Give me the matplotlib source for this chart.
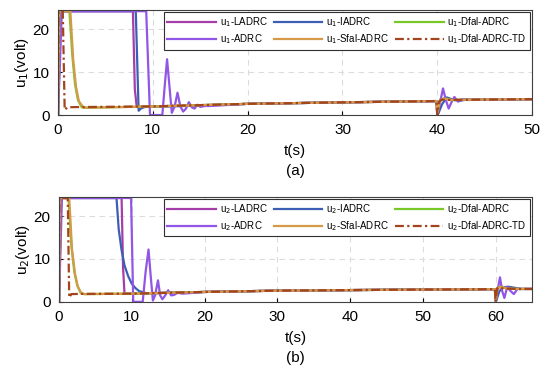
import matplotlib.pyplot as plt

plt.rcParams['font.family'] = ['Liberation Sans', 'DejaVu Sans']

# ---- panel (a): u1 ----
a_ladrc_t = [0, 0.2, 7.9, 8.1, 8.3, 10, 20, 30, 39.9, 40.0, 40.3, 40.8, 41.5, 43, 50]
a_ladrc_v = [0, 24.2, 24.2, 6, 1.9, 2.0, 2.6, 2.95, 3.25, 0.2, 3.4, 3.8, 3.5, 3.55, 3.7]
a_iadrc_t = [0, 0.3, 8.2, 8.5, 8.8, 9.2, 10, 11, 12, 20, 30, 39.9, 40.1, 40.5, 41.0, 41.6, 42.3, 43, 50]
a_iadrc_v = [0, 24.2, 24.2, 1.0, 1.6, 1.9, 2.0, 2.0, 2.0, 2.6, 2.95, 3.25, 0.3, 2.5, 4.1, 3.6, 3.3, 3.55, 3.7]
a_dfal_t = [0, 0.1, 1.2, 1.5, 1.8, 2.1, 2.5, 3.0, 10, 20, 30, 39.9, 40.0, 40.3, 40.8, 41.5, 43, 50]
a_dfal_v = [0, 24.2, 24.2, 14, 7, 3.5, 1.8, 1.7, 2.0, 2.6, 2.95, 3.25, 0.3, 3.6, 3.9, 3.5, 3.55, 3.7]
a_adrc_t = [0, 0.4, 9.3, 9.7, 11.0, 11.3, 11.5, 11.7, 12.0, 12.3, 12.6, 12.9, 13.2, 13.5,
            13.8, 14.1, 14.4, 14.7, 15.0, 15.5, 16, 20, 30, 39.9, 40.0, 40.3, 40.6, 40.9,
            41.2, 41.5, 41.8, 42.2, 42.7, 43.2, 50]
a_adrc_v = [0, 24.2, 24.2, 0, 0, 8, 13, 8, 0.5, 2, 5.2, 2, 0.8, 1.5,
            3.0, 1.8, 1.5, 2.4, 1.9, 2.1, 2.1, 2.6, 2.95, 3.25, 0.2, 3.0, 6.2, 3.5,
            1.5, 3.0, 4.2, 3.1, 3.7, 3.5, 3.7]
a_sfal_t = [0, 0.15, 1.3, 1.6, 1.9, 2.2, 2.7, 3.2, 10, 20, 30, 39.9, 40.0, 40.3, 40.8, 41.5, 43, 50]
a_sfal_v = [0, 24.2, 24.2, 13, 6.5, 3.2, 1.7, 1.7, 2.0, 2.6, 2.95, 3.25, 0.3, 3.5, 3.8, 3.5, 3.55, 3.7]
a_td_t = [0, 0.05, 0.5, 0.7, 1.0, 2, 10, 20, 30, 39.9, 40.0, 40.2, 40.5, 41, 43, 50]
a_td_v = [0, 24.2, 24.2, 1.2, 1.8, 1.85, 2.0, 2.6, 2.95, 3.25, 0.0, 3.2, 3.6, 3.5, 3.55, 3.7]

# ---- panel (b): u2 ----
b_ladrc_t = [0, 0.2, 8.6, 8.8, 9.0, 10, 20, 30, 45, 59.9, 60.0, 60.3, 60.8, 61.5, 63, 65]
b_ladrc_v = [0, 24.2, 24.2, 8, 1.9, 1.9, 2.3, 2.6, 2.8, 2.95, 0.2, 3.3, 3.6, 3.1, 3.0, 3.0]
b_iadrc_t = [0, 0.3, 7.9, 8.2, 8.6, 9.0, 9.5, 10, 10.5, 11, 12, 20, 30, 45, 59.9, 60.1,
             60.5, 61.0, 61.8, 62.5, 63.5, 65]
b_iadrc_v = [0, 24.2, 24.2, 17, 12, 8.5, 6, 4.2, 3.2, 2.5, 2.0, 2.3, 2.6, 2.8, 2.95, 0.3,
             2.4, 3.4, 3.5, 3.3, 3.0, 3.0]
b_dfal_t = [0, 0.1, 1.3, 1.7, 2.1, 2.5, 3.0, 3.5, 10, 20, 30, 45, 59.9, 60.0, 60.3, 60.8, 61.5, 63, 65]
b_dfal_v = [0, 24.2, 24.2, 13, 7, 3.8, 2.0, 1.8, 1.9, 2.3, 2.6, 2.8, 2.95, 0.3, 3.4, 3.5, 3.1, 3.0, 3.0]
b_adrc_t = [0, 0.4, 9.9, 10.2, 11.5, 11.9, 12.3, 12.6, 12.9, 13.2, 13.6, 13.9, 14.2, 14.6,
            15.0, 15.4, 15.8, 16.3, 17, 20, 30, 45, 59.9, 60.0, 60.3, 60.6, 60.9, 61.2,
            61.6, 62.0, 62.5, 63.0, 65]
b_adrc_v = [0, 24.2, 24.2, 0, 0, 7, 12.2, 6, 0.3, 1.5, 5.0, 1.5, 0.6, 1.5,
            2.7, 1.5, 1.6, 2.1, 1.9, 2.3, 2.6, 2.8, 2.95, 0.2, 3.0, 5.7, 2.5,
            0.9, 3.5, 2.6, 1.8, 3.0, 3.0]
b_sfal_t = [0, 0.15, 1.4, 1.8, 2.2, 2.6, 3.1, 3.6, 10, 20, 30, 45, 59.9, 60.0, 60.3, 60.8, 61.5, 63, 65]
b_sfal_v = [0, 24.2, 24.2, 12, 6.5, 3.5, 1.9, 1.8, 1.9, 2.3, 2.6, 2.8, 2.95, 0.3, 3.3, 3.5, 3.1, 3.0, 3.0]
b_td_t = [0, 0.05, 1.2, 1.4, 1.7, 3, 10, 20, 30, 45, 59.9, 60.0, 60.2, 60.5, 61, 63, 65]
b_td_v = [0, 24.2, 24.2, 1.0, 1.8, 1.85, 1.9, 2.3, 2.6, 2.8, 2.95, 0.0, 3.1, 3.4, 3.1, 3.0, 3.0]

names = ['LADRC', 'IADRC', 'Dfal-ADRC', 'ADRC', 'Sfal-ADRC', 'Dfal-ADRC-TD']
colors = ['#a53ea8', '#3c5fb5', '#78c828', '#9256e6', '#d49a48', '#a3441c']

panels = [
    (1, [a_ladrc_t, a_iadrc_t, a_dfal_t, a_adrc_t, a_sfal_t, a_td_t],
        [a_ladrc_v, a_iadrc_v, a_dfal_v, a_adrc_v, a_sfal_v, a_td_v], 50, [0, 10, 20, 30, 40, 50], '(a)'),
    (2, [b_ladrc_t, b_iadrc_t, b_dfal_t, b_adrc_t, b_sfal_t, b_td_t],
        [b_ladrc_v, b_iadrc_v, b_dfal_v, b_adrc_v, b_sfal_v, b_td_v], 65, [0, 10, 20, 30, 40, 50, 60], '(b)'),
]

fig = plt.figure(figsize=(5.5, 3.74), dpi=100)
rects = [[0.1055, 0.6925, 0.862, 0.281], [0.1073, 0.193, 0.860, 0.281]]

for (k, ts, vs, xmax, xt, tag), rect in zip(panels, rects):
    ax = fig.add_axes(rect)
    lines = []
    for t, v, name, c in zip(ts, vs, names, colors):
        ls = (0, (4, 1.5, 1, 1.5)) if name.endswith('TD') else '-'
        ln, = ax.plot(t, v, color=c, lw=1.6, ls=ls, label=f'u$_{k}$-{name}')
        lines.append(ln)
    ax.set_xlim(0, xmax)
    ax.set_ylim(0, 24.5)
    ax.set_xticks(xt)
    ax.set_yticks([0, 10, 20])
    ax.tick_params(labelsize=11, direction='in', length=3, pad=6)
    ax.grid(True, ls=(0, (5, 4)), color='#dcdcdc', lw=0.8)
    for s in ax.spines.values():
        s.set_color('#404040')
        s.set_linewidth(0.8)
    ax.set_ylabel(f'u$_{k}$(volt)', fontsize=11, labelpad=1)
    ax.set_xlabel(f't(s)\n{tag}', fontsize=11, labelpad=5, linespacing=1.55)
    order = [0, 3, 1, 4, 2, 5]
    leg = ax.legend([lines[i] for i in order], [lines[i].get_label() for i in order],
                    ncol=3, loc='upper right', fontsize=7, handlelength=5.0,
                    columnspacing=0.6, handletextpad=0.4, borderaxespad=0.2,
                    labelspacing=0.35, fancybox=False, edgecolor='#303030',
                    framealpha=1, borderpad=0.35)
    leg.get_frame().set_linewidth(0.8)

fig.savefig('out.png', dpi=100)
